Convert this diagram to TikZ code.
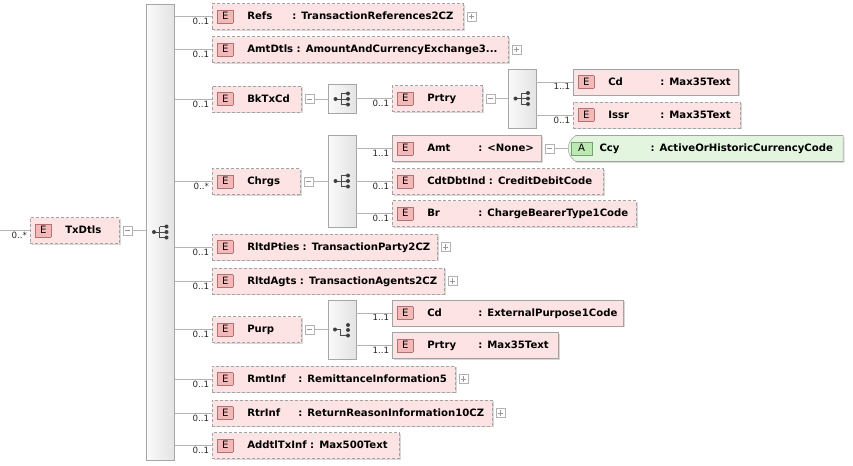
\documentclass[tikz,border=0pt]{standalone}
\usepackage{fontspec}
\setmainfont{DejaVu Sans}
\usetikzlibrary{positioning,shapes.misc,shadows}
\definecolor{elfill}{HTML}{FDE3E3}
\definecolor{elline}{HTML}{A3A3A3}
\definecolor{badgefill}{HTML}{F3B9B9}
\definecolor{badgeline}{HTML}{B27272}
\definecolor{atfill}{HTML}{E3F5DF}
\definecolor{atbadgefill}{HTML}{BDE8B4}
\definecolor{atbadgeline}{HTML}{6FA56A}
\definecolor{wire}{HTML}{B4B4B4}
\setlength\fboxsep{0pt}
\setlength\fboxrule{0.5pt}
\newcommand\ebadge{\noindent\hspace*{3.75pt}\fcolorbox{badgeline}{badgefill}{\makebox[11pt]{\rule[-2.2pt]{0pt}{9pt}\mdseries E}}\hspace{10.5pt}}
\newcommand\abadge{\noindent\hspace*{0.5pt}\fcolorbox{atbadgeline}{atbadgefill}{\makebox[15.5pt]{\rule[-2.2pt]{0pt}{9pt}\mdseries A}}\hspace{5.25pt}}
\newcommand\elname[2][38.25pt]{\makebox[#1][l]{#2}}
\tikzset{
  elem/.style={draw=elline, fill=elfill, dash pattern=on 2.25pt off 1.5pt, anchor=west,
    inner xsep=0pt, inner ysep=0pt, minimum height=19.5pt, align=left,
    font=\fontsize{7.6}{9}\selectfont\bfseries,
    drop shadow={shadow xshift=1pt, shadow yshift=-1pt, fill=black!30}},
  req/.style={elem, solid},
  attr/.style={req, fill=atfill, shape=rounded rectangle, rounded rectangle right arc=none,
    rounded rectangle arc length=120},
  compo/.style={draw=gray!70, left color=gray!4, right color=gray!22, inner sep=0pt,
    minimum width=21pt},
  mult/.style={font=\fontsize{6.5}{8}\selectfont, text=black!85, inner sep=1pt, anchor=north east},
  wire/.style={draw=wire, line width=0.5pt},
  tog/.style={draw=gray!60, fill=white, minimum size=6.75pt, inner sep=0pt},
  tminus/.style={tog, path picture={\draw[gray!80] ([xshift=-2pt]path picture bounding box.center) -- ([xshift=2pt]path picture bounding box.center);}},
  tplus/.style={tog, path picture={\draw[gray!80] ([xshift=-2pt]path picture bounding box.center) -- ([xshift=2pt]path picture bounding box.center) ([yshift=-2pt]path picture bounding box.center) -- ([yshift=2pt]path picture bounding box.center);}},
  seqicon/.pic={
    \draw[black!70, line width=0.6pt] (-6.5,0) -- (-1,0) (-1,-5.5) -- (-1,5.5)
      (-1,-5.5) -- (6,-5.5) (-1,0) -- (6,0) (-1,5.5) -- (6,5.5);
    \fill[black!75] (-6.5,0) circle[radius=2] (6,-5.5) circle[radius=2] (6,0) circle[radius=2] (6,5.5) circle[radius=2];
  },
  choiceicon/.pic={
    \draw[black!70, line width=0.6pt] (-7,0) -- (-2,0) -- (-2,6) -- (6,6);
    \fill[black!75] (-7,0) circle[radius=2] (6,-4.5) circle[radius=2] (6,0.5) circle[radius=2] (6,6) circle[radius=2];
  }
}
\begin{document}
\begin{tikzpicture}[x=0.75pt,y=-0.75pt]
\useasboundingbox (0,0) rectangle (853,465);
\node[compo, minimum height=342pt] (seqmain) at (160.5,232) {};
\pic at (seqmain.center) {seqicon};
\node[elem, text width=66.75pt] (txdtls) at (30,230.5) {\ebadge TxDtls};
\node[mult] (m-txdtls) at ([xshift=-1pt]txdtls.west) {0..*};
\node[tminus, right=2.5pt of txdtls] (t-txdtls) {};
\coordinate (root) at (0,230.5);
\draw[wire] (root) -- (txdtls.west);
\draw[wire] (t-txdtls.east) -- (t-txdtls.east -| seqmain.west);

\node[elem, text width=188.25pt] (refs) at (212,16.5) {\ebadge\elname[33.75pt]{Refs}: TransactionReferences2CZ};
\node[mult] (m-refs) at ([xshift=-1pt]refs.west) {0..1};
\node[tplus, right=2.5pt of refs] (t-refs) {};
\draw[wire] (seqmain.east |- refs.west) -- (refs.west);

\node[elem, text width=222pt] (amtdtls) at (212,49.5) {\ebadge AmtDtls : AmountAndCurrencyExchange3...};
\node[mult] (m-amtdtls) at ([xshift=-1pt]amtdtls.west) {0..1};
\node[tplus, right=2.5pt of amtdtls] (t-amtdtls) {};
\draw[wire] (seqmain.east |- amtdtls.west) -- (amtdtls.west);

\node[elem, text width=66.75pt] (bktxcd) at (212,99) {\ebadge BkTxCd};
\node[mult] (m-bktxcd) at ([xshift=-1pt]bktxcd.west) {0..1};
\node[tminus, right=2.5pt of bktxcd] (t-bktxcd) {};
\draw[wire] (seqmain.east |- bktxcd.west) -- (bktxcd.west);
\node[compo, minimum height=21.75pt] (seqbk) at (342,99) {};
\pic at (seqbk.center) {seqicon};
\draw[wire] (t-bktxcd.east) -- (seqbk.west);

\node[elem, text width=67.5pt] (bkprtry) at (392,98.5) {\ebadge Prtry};
\node[mult] (m-bkprtry) at ([xshift=-1pt]bkprtry.west) {0..1};
\node[tminus, right=2.5pt of bkprtry] (t-bkprtry) {};
\draw[wire] (seqbk.east |- bkprtry.west) -- (bkprtry.west);
\node[compo, minimum height=44.25pt] (seqprtry) at (522,98.5) {};
\pic at (seqprtry.center) {seqicon};
\draw[wire] (t-bkprtry.east) -- (t-bkprtry.east -| seqprtry.west);

\node[req, text width=123.75pt] (bkcd) at (573,82) {\ebadge\elname[39pt]{Cd}: Max35Text};
\node[mult] (m-bkcd) at ([xshift=-1pt]bkcd.west) {1..1};
\draw[wire] (seqprtry.east |- bkcd.west) -- (bkcd.west);
\node[elem, text width=125.25pt] (issr) at (573,115) {\ebadge\elname[39pt]{Issr}: Max35Text};
\node[mult] (m-issr) at ([xshift=-1pt]issr.west) {0..1};
\draw[wire] (seqprtry.east |- issr.west) -- (issr.west);

\node[elem, text width=66pt] (chrgs) at (212,181.5) {\ebadge Chrgs};
\node[mult] (m-chrgs) at ([xshift=-1pt]chrgs.west) {0..*};
\node[tminus, right=2.5pt of chrgs] (t-chrgs) {};
\draw[wire] (seqmain.east |- chrgs.west) -- (chrgs.west);
\node[compo, minimum height=69pt] (seqchrgs) at (342,181) {};
\pic at (seqchrgs.center) {seqicon};
\draw[wire] (t-chrgs.east) -- (t-chrgs.east -| seqchrgs.west);

\node[req, text width=111.75pt] (amt) at (392,148.5) {\ebadge\elname{Amt}: <None>};
\node[mult] (m-amt) at ([xshift=-1pt]amt.west) {1..1};
\node[tminus, right=2.5pt of amt] (t-amt) {};
\draw[wire] (seqchrgs.east |- amt.west) -- (amt.west);
\node[attr, text width=205pt] (ccy) at (568,148.5) {\abadge\elname{Ccy}: ActiveOrHistoricCurrencyCode};
\draw[wire] (t-amt.east) -- (ccy.west);

\node[elem, text width=158.25pt] (cdtdbtind) at (392,181.5) {\ebadge CdtDbtInd : CreditDebitCode};
\node[mult] (m-cdtdbtind) at ([xshift=-1pt]cdtdbtind.west) {0..1};
\draw[wire] (seqchrgs.east |- cdtdbtind.west) -- (cdtdbtind.west);
\node[elem, text width=183pt] (br) at (392,213.5) {\ebadge\elname{Br}: ChargeBearerType1Code};
\node[mult] (m-br) at ([xshift=-1pt]br.west) {0..1};
\draw[wire] (seqchrgs.east |- br.west) -- (br.west);

\node[elem, text width=168.75pt] (rltdpties) at (212,247) {\ebadge RltdPties : TransactionParty2CZ};
\node[mult] (m-rltdpties) at ([xshift=-1pt]rltdpties.west) {0..1};
\node[tplus, right=2.5pt of rltdpties] (t-rltdpties) {};
\draw[wire] (seqmain.east |- rltdpties.west) -- (rltdpties.west);

\node[elem, text width=174pt] (rltdagts) at (212,281) {\ebadge RltdAgts : TransactionAgents2CZ};
\node[mult] (m-rltdagts) at ([xshift=-1pt]rltdagts.west) {0..1};
\node[tplus, right=2.5pt of rltdagts] (t-rltdagts) {};
\draw[wire] (seqmain.east |- rltdagts.west) -- (rltdagts.west);

\node[elem, text width=66.75pt] (purp) at (212,329.5) {\ebadge Purp};
\node[mult] (m-purp) at ([xshift=-1pt]purp.west) {0..1};
\node[tminus, right=2.5pt of purp] (t-purp) {};
\draw[wire] (seqmain.east |- purp.west) -- (purp.west);
\node[compo, minimum height=44.25pt] (chpurp) at (342,329.5) {};
\pic at (chpurp.center) {choiceicon};
\draw[wire] (t-purp.east) -- (t-purp.east -| chpurp.west);

\node[req, text width=173.25pt] (purpcd) at (392,313) {\ebadge\elname{Cd}: ExternalPurpose1Code};
\node[mult] (m-purpcd) at ([xshift=-1pt]purpcd.west) {1..1};
\draw[wire] (chpurp.east |- purpcd.west) -- (purpcd.west);
\node[req, text width=124.5pt] (purpprtry) at (392,345.5) {\ebadge\elname{Prtry}: Max35Text};
\node[mult] (m-purpprtry) at ([xshift=-1pt]purpprtry.west) {1..1};
\draw[wire] (chpurp.east |- purpprtry.west) -- (purpprtry.west);

\node[elem, text width=182.25pt] (rmtinf) at (212,379) {\ebadge\elname{RmtInf}: RemittanceInformation5};
\node[mult] (m-rmtinf) at ([xshift=-1pt]rmtinf.west) {0..1};
\node[tplus, right=2.5pt of rmtinf] (t-rmtinf) {};
\draw[wire] (seqmain.east |- rmtinf.west) -- (rmtinf.west);

\node[elem, text width=210pt] (rtrinf) at (212,413) {\ebadge\elname{RtrInf}: ReturnReasonInformation10CZ};
\node[mult] (m-rtrinf) at ([xshift=-1pt]rtrinf.west) {0..1};
\node[tplus, right=2.5pt of rtrinf] (t-rtrinf) {};
\draw[wire] (seqmain.east |- rtrinf.west) -- (rtrinf.west);

\node[elem, text width=140.25pt] (addtl) at (212,445.5) {\ebadge AddtlTxInf : Max500Text};
\node[mult] (m-addtl) at ([xshift=-1pt]addtl.west) {0..1};
\draw[wire] (seqmain.east |- addtl.west) -- (addtl.west);
\end{tikzpicture}
\end{document}
